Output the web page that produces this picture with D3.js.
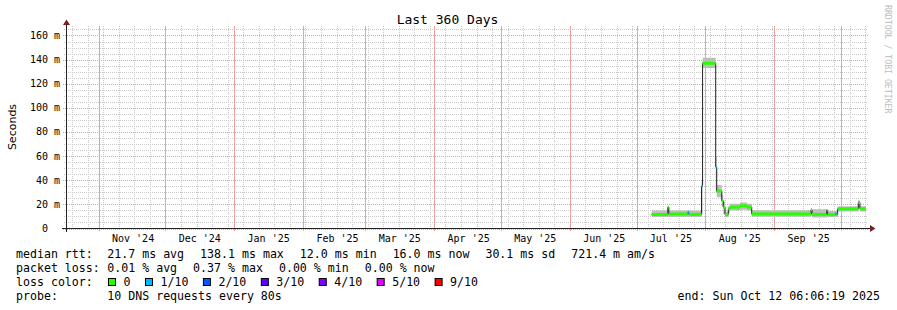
<!DOCTYPE html>
<html>
<head>
<meta charset="utf-8">
<script src="https://cdn.jsdelivr.net/npm/d3@7/dist/d3.min.js"></script>
<style>
  body { margin: 0; background: #fff; }
  text { font-family: "DejaVu Sans Mono", monospace; white-space: pre; }
  .grid line { shape-rendering: crispEdges; }
</style>
</head>
<body>
<svg id="chart" width="897" height="310" xml:space="preserve"></svg>
<script>
// samples (step start times), median rtt in ms, smoke range in ms, loss index
var times = ["2025-07-07T20:00", "2025-07-15T02:00", "2025-07-15T13:00", "2025-07-24T02:00", "2025-07-24T13:00",
             "2025-07-30T06:00", "2025-07-30T17:00", "2025-08-05T15:00", "2025-08-06T02:00", "2025-08-08T08:00",
             "2025-08-09T01:00", "2025-08-09T19:00", "2025-08-11T07:00", "2025-08-12T01:00", "2025-08-16T13:00",
             "2025-08-19T17:00", "2025-08-21T20:00", "2025-09-17T12:00", "2025-09-17T23:00", "2025-09-24T13:00",
             "2025-09-25T00:00", "2025-09-28T14:00", "2025-09-29T01:00", "2025-09-29T12:00", "2025-10-08T19:00",
             "2025-10-09T13:00"];
var median  = [11.6, 17.7, 12.0, 13.5, 11.7, 35, 137, 51, 31, 23, 17.7, 11.5, 16.3, 17.7, 18.8, 17.7, 12.1, 15.5, 11.7, 15, 11.5, 12.5, 11.5, 16.3, 21.5, 16.3];
var smokeLo = [9.5, 10, 9.5, 10, 9.5, 12, 133, 30, 26, 18, 12, 9.5, 13, 15, 15.5, 15, 9.8, 10.5, 9.2, 9.5, 9.5, 10, 9.5, 14, 17, 14];
var smokeHi = [15, 18.5, 15, 15, 15, 40, 141.5, 60, 36, 28, 22, 14, 18.5, 20.5, 21.5, 20.5, 15.2, 16.5, 16, 16, 14.5, 15, 14, 18.5, 23.5, 18.5];
var loss    = [0, 0, 0, 1, 0, 1, 0, 1, 0, 0, 0, 0, 0, 0, 0, 0, 0, 0, 0, 0, 0, 1, 0, 0, 0, 0];

var yTicks = [0, 20, 40, 60, 80, 100, 120, 140, 160];
var monthLabels = ["Nov '24", "Dec '24", "Jan '25", "Feb '25", "Mar '25", "Apr '25", "May '25", "Jun '25", "Jul '25", "Aug '25", "Sep '25"];

var lossLabels = ["0", "1/10", "2/10", "3/10", "4/10", "5/10", "9/10"];
var lossColors = ["#26ff00", "#00b8ff", "#0059ff", "#5e00ff", "#7e00ff", "#dd00ff", "#ff0000"];

var rttStats  = ["21.7 ms avg", "138.1 ms max", "12.0 ms min", "16.0 ms now", "30.1 ms sd", "721.4 m am/s"];
var lossStats = ["0.01 % avg", "0.37 % max", "0.00 % min", "0.00 % now"];

var start = new Date(2024, 9, 17, 6, 6, 19), end = new Date(2025, 9, 12, 6, 6, 19);
var parse = d3.timeParse("%Y-%m-%dT%H:%M");

var data = times.map(function (t, i) {
    return { t: parse(t), med: median[i], lo: smokeLo[i], hi: smokeHi[i], loss: loss[i] };
});
// last sample runs until the end of the graph
var last = data[data.length - 1];
var stepData = data.concat([{ t: end, med: last.med, lo: last.lo, hi: last.hi, loss: last.loss }]);

var svg = d3.select("#chart");
var x = d3.scaleTime().domain([start, end]).range([66, 866]);
var y = d3.scaleLinear().domain([0, 165.8]).range([228.5, 28.5]);
var px = function (v) { return Math.round(v) + 0.5; };

svg.append("rect").attr("width", 897).attr("height", 310).attr("fill", "#fff");

// --- grid ---
var grid = svg.append("g").attr("class", "grid");
var months = d3.timeMonth.range(start, end);
var weeks = d3.timeSunday.range(start, end).filter(function (d) { return d.getDate() != 1; });
var minorY = d3.range(5, 166, 5).filter(function (v) { return v % 20 != 0; });

grid.selectAll("line.minx").data(weeks).enter().append("line")
    .attr("x1", function (d) { return px(x(d)); }).attr("x2", function (d) { return px(x(d)); })
    .attr("y1", 26).attr("y2", 230)
    .attr("stroke", "#c8c8c8").attr("stroke-dasharray", "1,1");
grid.selectAll("line.miny").data(minorY).enter().append("line")
    .attr("x1", 64).attr("x2", 868)
    .attr("y1", function (d) { return px(y(d)); }).attr("y2", function (d) { return px(y(d)); })
    .attr("stroke", "#c8c8c8").attr("stroke-dasharray", "1,1");
grid.selectAll("line.majy").data(yTicks).enter().append("line")
    .attr("x1", 63).attr("x2", 868)
    .attr("y1", function (d) { return px(y(d)); }).attr("y2", function (d) { return px(y(d)); })
    .attr("stroke", "#eba0a0").attr("stroke-dasharray", "1,1");
// month lines
months.forEach(function (m) {
    var mx = px(x(m));
    grid.append("line")
        .attr("x1", mx).attr("x2", mx).attr("y1", 26).attr("y2", 231)
        .attr("stroke", "#eea0a0");
});

// --- smoke, median, loss colour band ---
svg.append("path").datum(stepData)
    .attr("d", d3.area().curve(d3.curveStepAfter)
        .x(function (d) { return x(d.t); })
        .y0(function (d) { return y(d.lo); })
        .y1(function (d) { return y(d.hi); }))
    .attr("fill", "#bdbdbd");

svg.append("path").datum(stepData)
    .attr("d", d3.line().curve(d3.curveStepAfter)
        .x(function (d) { return x(d.t); })
        .y(function (d) { return y(d.med); }))
    .attr("fill", "none").attr("stroke", "#202020").attr("stroke-width", 1);

svg.selectAll("rect.band").data(data).enter().append("rect")
    .attr("x", function (d) { return x(d.t); })
    .attr("width", function (d, i) { return Math.max(1, x(stepData[i + 1].t) - x(d.t)); })
    .attr("y", function (d) { return y(d.med) - 1.5; })
    .attr("height", 3)
    .attr("fill", function (d) { return lossColors[d.loss]; });

// --- axes ---
svg.append("line").attr("x1", 62).attr("x2", 870).attr("y1", 228.5).attr("y2", 228.5).attr("stroke", "#222");
svg.append("line").attr("x1", 66.5).attr("x2", 66.5).attr("y1", 232).attr("y2", 24).attr("stroke", "#222");
svg.append("path").attr("d", "M870,225L875.5,228.5L870,232Z").attr("fill", "#7d1f1f");
svg.append("path").attr("d", "M63,25L66.5,19.5L70,25Z").attr("fill", "#7d1f1f");

svg.selectAll("text.ylab").data(yTicks).enter().append("text")
    .attr("x", function (d) { return d == 0 ? 48 : 60; })
    .attr("y", function (d) { return y(d) + 3.5; })
    .attr("text-anchor", "end").attr("font-size", "10px").attr("fill", "#000")
    .text(function (d) { return d == 0 ? "0" : d + " m"; });

svg.selectAll("text.xlab").data(months.slice(0, monthLabels.length)).enter().append("text")
    .attr("x", function (d) { return x(d3.timeDay.offset(d, 15)) + 1; })
    .attr("y", 242)
    .attr("text-anchor", "middle").attr("font-size", "10px").attr("fill", "#000")
    .text(function (d, i) { return monthLabels[i]; });

svg.append("text").attr("x", 447.5).attr("y", 24).attr("text-anchor", "middle")
    .attr("font-size", "13px").text("Last 360 Days");

svg.append("text").attr("transform", "translate(16,127) rotate(-90)")
    .attr("text-anchor", "middle").attr("font-size", "11px")
    .style("font-family", "'DejaVu Sans', sans-serif").text("Seconds");

svg.append("text").attr("transform", "translate(885,5) rotate(90)")
    .attr("font-size", "8.2px").attr("fill", "#bdbdbd").text("RRDTOOL / TOBI OETIKER");

// --- legend ---
var leg = svg.append("g").attr("font-size", "11.6px").attr("fill", "#000");
function statLine(label, items, baseY) {
    leg.append("text").attr("x", 16).attr("y", baseY).text(label);
    var cx = 107.3;
    items.forEach(function (s) {
        var t = leg.append("text").attr("x", cx).attr("y", baseY).text(s);
        cx += t.node().getComputedTextLength() + 16;
    });
}
statLine("median rtt:", rttStats, 258);
statLine("packet loss:", lossStats, 272);

leg.append("text").attr("x", 16).attr("y", 286).text("loss color:");
var bx = 108.5;
lossLabels.forEach(function (l, i) {
    leg.append("rect").attr("x", bx).attr("y", 278.5).attr("width", 7).attr("height", 7)
        .attr("fill", lossColors[i]).attr("stroke", "#000").attr("stroke-width", 1);
    var t = leg.append("text").attr("x", bx + 15).attr("y", 286).text(l);
    bx = bx + 15 + t.node().getComputedTextLength() + 15;
});

leg.append("text").attr("x", 16).attr("y", 300).text("probe:");
leg.append("text").attr("x", 107.3).attr("y", 300).text("10 DNS requests every 80s");
leg.append("text").attr("x", 880).attr("y", 300).attr("text-anchor", "end").text("end: Sun Oct 12 06:06:19 2025");
</script>
</body>
</html>
